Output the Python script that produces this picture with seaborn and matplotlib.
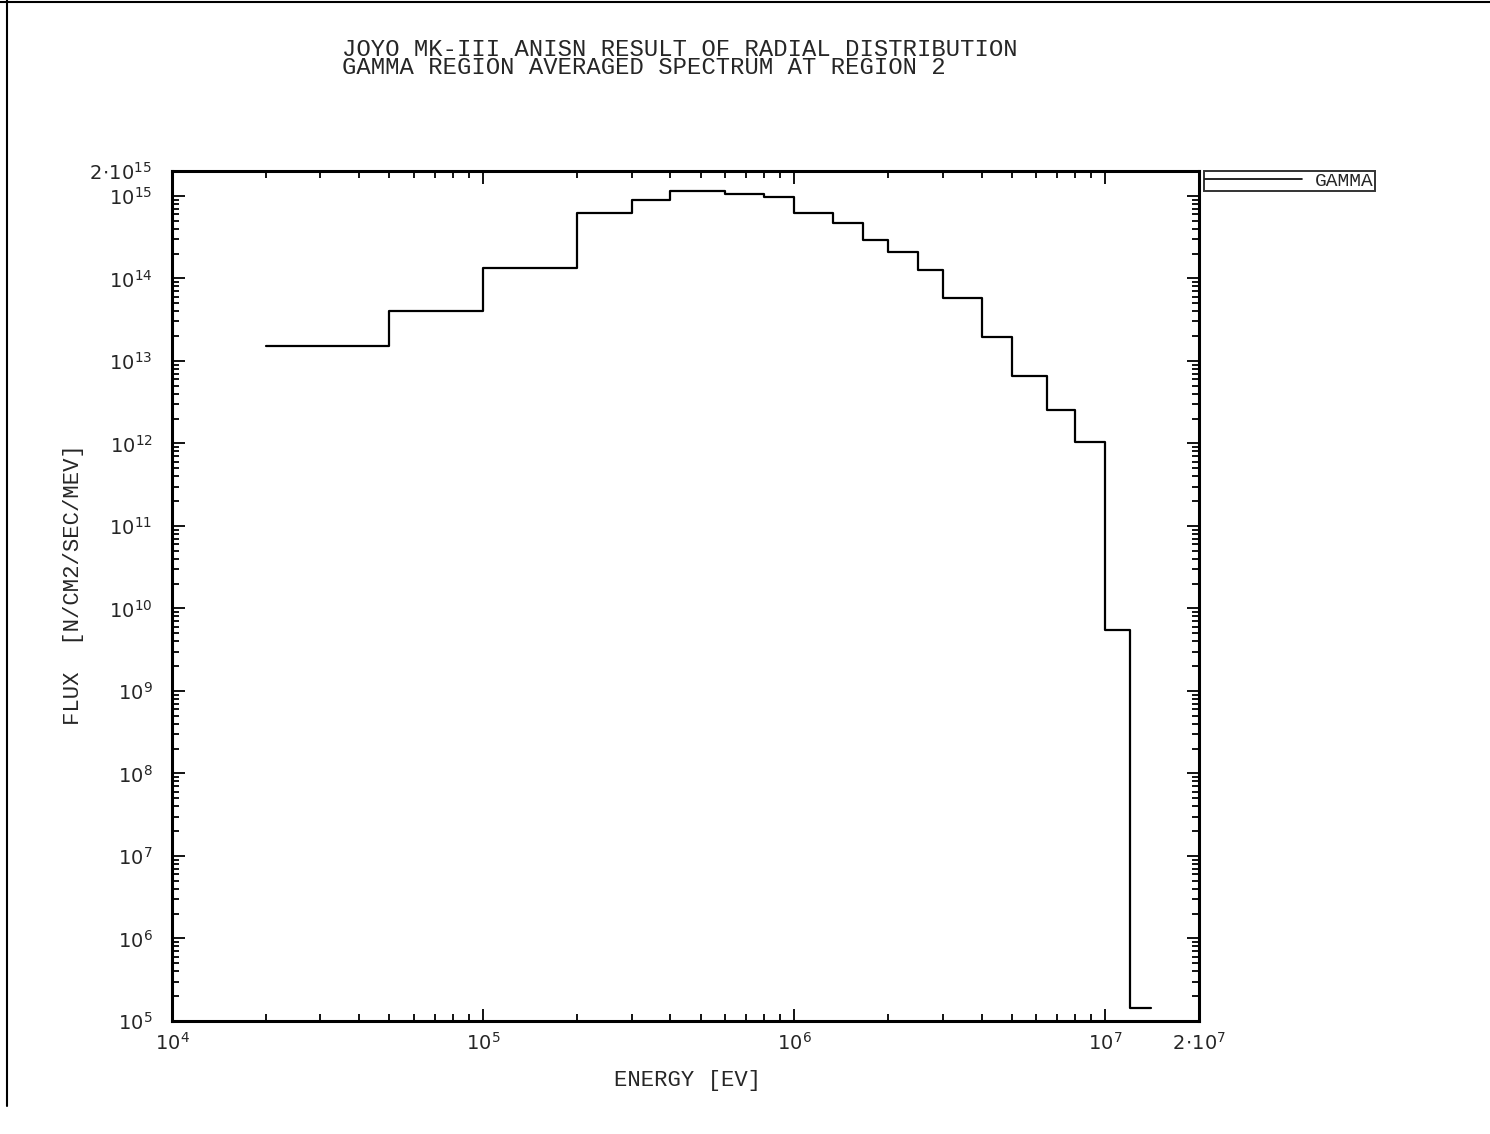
import matplotlib
matplotlib.use("Agg")
import matplotlib.pyplot as plt
import matplotlib.ticker as mticker
from matplotlib.lines import Line2D
import numpy as np
import pandas as pd
import seaborn as sns

# Gamma group boundaries [eV] (ascending) and group-averaged flux [N/CM2/SEC/MEV]
energy_bounds = [2e4, 5e4, 1e5, 2e5, 3e5, 4e5, 6e5, 8e5, 1e6, 1.33e6, 1.66e6,
                 2e6, 2.5e6, 3e6, 4e6, 5e6, 6.5e6, 8e6, 1e7, 1.2e7, 1.4e7]
gamma_flux = [1.53e13, 4.0e13, 1.32e14, 6.2e14, 8.95e14, 1.14e15, 1.06e15,
              9.8e14, 6.2e14, 4.7e14, 2.88e14, 2.06e14, 1.26e14, 5.7e13,
              1.95e13, 6.6e12, 2.55e12, 1.05e12, 5.5e9, 1.45e5]

x_ticks = [1e4, 1e5, 1e6, 1e7, 2e7]
x_tick_labels = [r"$10^{4}$", r"$10^{5}$", r"$10^{6}$", r"$10^{7}$", r"$2\!\cdot\!10^{7}$"]
y_ticks = [1e5, 1e6, 1e7, 1e8, 1e9, 1e10, 1e11, 1e12, 1e13, 1e14, 1e15, 2e15]
y_tick_labels = [r"$10^{5}$", r"$10^{6}$", r"$10^{7}$", r"$10^{8}$", r"$10^{9}$",
                 r"$10^{10}$", r"$10^{11}$", r"$10^{12}$", r"$10^{13}$",
                 r"$10^{14}$", r"$10^{15}$", r"$2\!\cdot\!10^{15}$"]

title_lines = ["JOYO MK-III ANISN RESULT OF RADIAL DISTRIBUTION",
               "GAMMA REGION AVERAGED SPECTRUM AT REGION 2"]

sns.set_theme(style="white")
plt.rcParams["font.family"] = ["DejaVu Sans"]
plt.rcParams["mathtext.fontset"] = "dejavusans"

mono = "Liberation Mono"

fig = plt.figure(figsize=(14.9, 11.34), dpi=100)
fig.patch.set_facecolor("white")
ax = fig.add_axes([0.1154, 0.0997, 0.6893, 0.7495])

# step histogram: repeat the last value so the final group is drawn
df = pd.DataFrame({"energy": energy_bounds,
                   "flux": gamma_flux + [gamma_flux[-1]]})
sns.lineplot(data=df, x="energy", y="flux", ax=ax, color="black",
             linewidth=1.6, drawstyle="steps-post", estimator=None,
             sort=False, label="GAMMA")

ax.set_xscale("log")
ax.set_yscale("log")
ax.set_xlim(1e4, 2e7)
ax.set_ylim(1e5, 2e15)

ax.xaxis.set_major_locator(mticker.FixedLocator(x_ticks))
ax.xaxis.set_major_formatter(mticker.FixedFormatter(x_tick_labels))
ax.yaxis.set_major_locator(mticker.FixedLocator(y_ticks))
ax.yaxis.set_major_formatter(mticker.FixedFormatter(y_tick_labels))
ax.xaxis.set_minor_locator(mticker.LogLocator(base=10, subs=np.arange(2, 10), numticks=20))
ax.yaxis.set_minor_locator(mticker.LogLocator(base=10, subs=np.arange(2, 10), numticks=30))
ax.xaxis.set_minor_formatter(mticker.NullFormatter())
ax.yaxis.set_minor_formatter(mticker.NullFormatter())

ax.tick_params(which="both", direction="in", top=True, right=True,
               bottom=True, left=True, color="black", width=1.3)
ax.tick_params(which="major", length=9)
ax.tick_params(which="minor", length=5)
ax.tick_params(axis="x", which="major", labelsize=14, pad=8)
ax.tick_params(axis="y", which="major", labelsize=14, pad=14)

for sp in ax.spines.values():
    sp.set_color("black")
    sp.set_linewidth(2.2)
    sp.set_visible(True)

ax.set_xlabel("ENERGY [EV]", family=mono, fontsize=16)
ax.set_ylabel("FLUX  [N/CM2/SEC/MEV]", family=mono, fontsize=16)
ax.xaxis.set_label_coords(0.502, -0.058)
ax.yaxis.set_label_coords(-0.086, 0.513)

fig.text(0.2295, 0.9485, "\n".join(title_lines), family=mono, fontsize=17.2,
         ha="left", va="center", linespacing=0.76)

leg = ax.legend(loc="upper left", bbox_to_anchor=(1.005, 1.0),
                frameon=True, fancybox=False, edgecolor="black",
                handlelength=5.0, handletextpad=0.65, borderpad=0.05,
                borderaxespad=0.0, prop={"family": mono, "size": 14},
                markerfirst=True)
leg.get_frame().set_linewidth(1.4)
leg.get_lines()[0].set_linewidth(1.2)

# page border lines
fig.add_artist(Line2D([0.0, 1.0], [0.998, 0.998], transform=fig.transFigure,
                      color="black", linewidth=1.5))
fig.add_artist(Line2D([0.0047, 0.0047], [1.0, 0.025], transform=fig.transFigure,
                      color="black", linewidth=1.5))

fig.savefig("out.png", dpi=100, facecolor="white")
